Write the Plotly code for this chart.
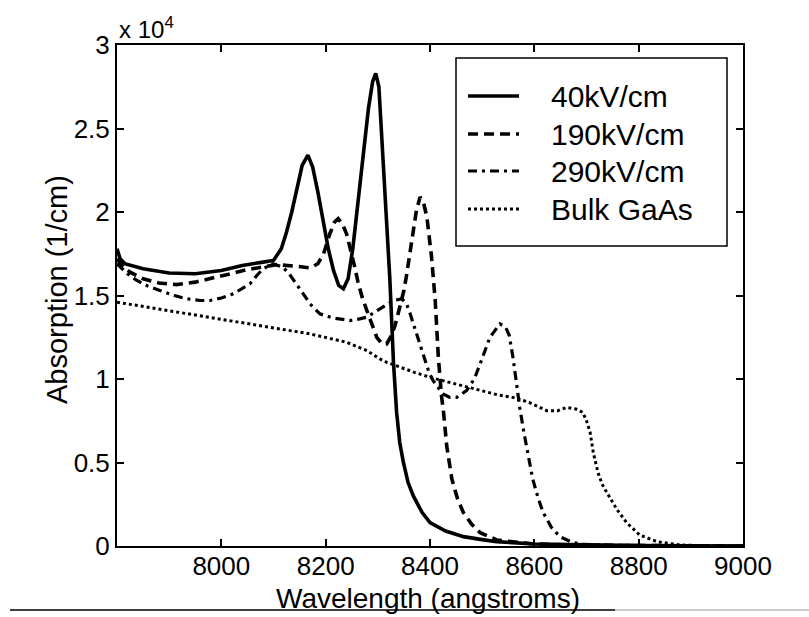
import plotly.graph_objects as go

# ---------------- data (absorption in 1e4 /cm) ----------------
wl_40 = [7800, 7806, 7815, 7850, 7900, 7950, 8000, 8040, 8080, 8100, 8115, 8125, 8135, 8145,
         8155, 8166, 8175, 8185, 8195, 8205, 8215, 8225, 8234, 8243, 8252, 8262, 8272, 8282,
         8290, 8296, 8302, 8310, 8317, 8323, 8330, 8336, 8342, 8349, 8358, 8368, 8385, 8400,
         8430, 8464, 8500, 8528, 8600, 8700, 8800, 9000]
ab_40 = [1.78, 1.72, 1.69, 1.66, 1.635, 1.63, 1.65, 1.68, 1.70, 1.71, 1.78, 1.88, 2.00, 2.15,
         2.28, 2.34, 2.27, 2.12, 1.94, 1.78, 1.65, 1.56, 1.54, 1.60, 1.78, 2.05, 2.35, 2.62,
         2.78, 2.83, 2.75, 2.30, 2.00, 1.60, 1.10, 0.80, 0.62, 0.50, 0.38, 0.30, 0.20, 0.14,
         0.09, 0.056, 0.038, 0.026, 0.012, 0.005, 0.002, 0.0]

wl_190 = [7800, 7812, 7825, 7850, 7880, 7914, 7950, 7980, 8017, 8050, 8080, 8106, 8144, 8170,
          8185, 8196, 8208, 8217, 8224, 8232, 8240, 8247, 8255, 8262, 8270, 8279, 8290, 8298,
          8308, 8317, 8326, 8333, 8342, 8350, 8355, 8365, 8374, 8381, 8388, 8394, 8403, 8410,
          8416, 8422, 8426, 8432, 8442, 8453, 8464, 8480, 8496, 8528, 8600, 8700, 9000]
ab_190 = [1.72, 1.67, 1.64, 1.60, 1.575, 1.565, 1.58, 1.60, 1.63, 1.655, 1.67, 1.685, 1.675, 1.665,
          1.69, 1.75, 1.87, 1.94, 1.96, 1.93, 1.87, 1.79, 1.68, 1.58, 1.49, 1.41, 1.31, 1.25,
          1.21, 1.21, 1.26, 1.32, 1.43, 1.53, 1.62, 1.83, 2.01, 2.09, 2.05, 1.97, 1.73, 1.47,
          1.13, 0.90, 0.80, 0.60, 0.40, 0.28, 0.20, 0.13, 0.08, 0.036, 0.012, 0.004, 0.0]

wl_290 = [7800, 7820, 7838, 7860, 7882, 7910, 7934, 7960, 7978, 8000, 8023, 8040, 8055, 8068,
          8080, 8099, 8118, 8130, 8144, 8157, 8170, 8189, 8214, 8247, 8265, 8279, 8304, 8330,
          8346, 8355, 8362, 8374, 8386, 8398, 8406, 8425, 8438, 8451, 8470, 8485, 8496, 8515,
          8534, 8545, 8552, 8559, 8566, 8572, 8580, 8585, 8597, 8607, 8617, 8633, 8649, 8670,
          8690, 8750, 9000]
ab_290 = [1.69, 1.63, 1.59, 1.555, 1.53, 1.50, 1.48, 1.47, 1.47, 1.485, 1.51, 1.54, 1.57, 1.62,
          1.66, 1.69, 1.67, 1.63, 1.57, 1.51, 1.45, 1.39, 1.365, 1.35, 1.36, 1.37, 1.42, 1.47,
          1.48, 1.45, 1.39, 1.27, 1.15, 1.04, 0.99, 0.91, 0.89, 0.89, 0.93, 1.00, 1.09, 1.25,
          1.33, 1.31, 1.26, 1.13, 0.97, 0.83, 0.68, 0.59, 0.40, 0.29, 0.20, 0.11, 0.056, 0.025,
          0.01, 0.004, 0.0]

wl_bulk = [7800, 7850, 7900, 7978, 8050, 8112, 8170, 8240, 8279, 8304, 8317, 8342, 8370, 8400,
           8430, 8464, 8496, 8530, 8559, 8590, 8624, 8645, 8662, 8680, 8693, 8700, 8707, 8713,
           8722, 8730, 8739, 8758, 8777, 8802, 8835, 8879, 8950, 9000]
ab_bulk = [1.46, 1.435, 1.41, 1.37, 1.335, 1.30, 1.27, 1.22, 1.17, 1.12, 1.10, 1.07, 1.04, 1.01,
           0.985, 0.96, 0.93, 0.905, 0.89, 0.86, 0.81, 0.81, 0.83, 0.82, 0.80, 0.75, 0.68, 0.56,
           0.44, 0.37, 0.32, 0.22, 0.14, 0.066, 0.026, 0.006, 0.0, 0.0]

series_names = ["40kV/cm", "190kV/cm", "290kV/cm", "Bulk GaAs"]
x_ticks = [8000, 8200, 8400, 8600, 8800, 9000]
y_ticks = [0, 0.5, 1, 1.5, 2, 2.5, 3]
y_tick_labels = ["0", "0.5", "1", "1.5", "2", "2.5", "3"]
SCALE = 1e4

FONT = "Liberation Sans, Arial, Helvetica, sans-serif"

# plot-area geometry in pixels (for paper-coordinate placement of decorations)
W, H = 809, 617
L, R, T, B = 117, 66, 45, 71
PW, PH = W - L - R, H - T - B


def px_x(px):
    return (px - L) / PW


def px_y(py):
    return (H - B - py) / PH


fig = go.Figure()
styles = [
    dict(width=3.6, dash="solid"),
    dict(width=3.6, dash="10px,6px"),
    dict(width=3.2, dash="9px,5px,3px,5px"),
    dict(width=3.0, dash="3px,3px"),
]
datasets = [(wl_40, ab_40), (wl_190, ab_190), (wl_290, ab_290), (wl_bulk, ab_bulk)]
for (xs, ys), name, st in zip(datasets, series_names, styles):
    fig.add_trace(go.Scatter(
        x=xs, y=[v * SCALE for v in ys], mode="lines", name=name,
        line=dict(color="black", width=st["width"], dash=st["dash"]),
        hoverinfo="skip", showlegend=False,
    ))

axis_common = dict(
    showline=True, linecolor="black", linewidth=2, mirror="ticks",
    ticks="inside", tickcolor="black", tickwidth=1.5, ticklen=7,
    showgrid=False, zeroline=False,
    tickfont=dict(family=FONT, size=26, color="black"),
)

fig.update_layout(
    width=W, height=H,
    margin=dict(l=L, r=R, t=T, b=B),
    paper_bgcolor="white", plot_bgcolor="white",
    font=dict(family=FONT, color="black"),
    showlegend=False,
    xaxis=dict(range=[7800, 9000], tickvals=x_ticks, ticklabelstandoff=-4, **axis_common),
    yaxis=dict(range=[0, 3 * SCALE], tickvals=[v * SCALE for v in y_ticks],
               ticktext=y_tick_labels, **axis_common),
)

# axis titles
fig.add_annotation(xref="paper", yref="paper", x=px_x(428), y=px_y(598),
                   xanchor="center", yanchor="middle", showarrow=False,
                   text="Wavelength (angstroms)",
                   font=dict(family=FONT, size=28, color="black"))
fig.add_annotation(xref="paper", yref="paper", x=px_x(57), y=px_y(290),
                   xanchor="center", yanchor="middle", showarrow=False, textangle=-90,
                   text="Absorption (1/cm)",
                   font=dict(family=FONT, size=29, color="black"))

# exponent label
fig.add_annotation(
    xref="paper", yref="paper", x=0.0, y=1.0, xanchor="left", yanchor="bottom",
    text="x 10<sup>4</sup>", showarrow=False, yshift=0,
    font=dict(family=FONT, size=24, color="black"),
)

# legend box (drawn by hand to match the original's proportions)
fig.add_shape(type="rect", xref="paper", yref="paper",
              x0=px_x(456), x1=px_x(727), y0=px_y(246), y1=px_y(58),
              line=dict(color="black", width=1.5), fillcolor="white", layer="above")
row_y = [96, 134, 171, 209]
for name, st, ry in zip(series_names, styles, row_y):
    fig.add_shape(type="line", xref="paper", yref="paper",
                  x0=px_x(468), x1=px_x(519), y0=px_y(ry), y1=px_y(ry),
                  line=dict(color="black", width=st["width"], dash=st["dash"]), layer="above")
    fig.add_annotation(xref="paper", yref="paper", x=px_x(549), y=px_y(ry),
                       xanchor="left", yanchor="middle", showarrow=False, text=name,
                       font=dict(family=FONT, size=30, color="black"))

# rule under the figure
fig.add_shape(type="line", xref="paper", yref="paper",
              x0=px_x(10), x1=px_x(615), y0=px_y(610), y1=px_y(610),
              line=dict(color="black", width=1.5))
fig.add_shape(type="line", xref="paper", yref="paper",
              x0=px_x(615), x1=px_x(809), y0=px_y(610), y1=px_y(610),
              line=dict(color="#bbbbbb", width=1.5))

fig.write_html("out.html")
